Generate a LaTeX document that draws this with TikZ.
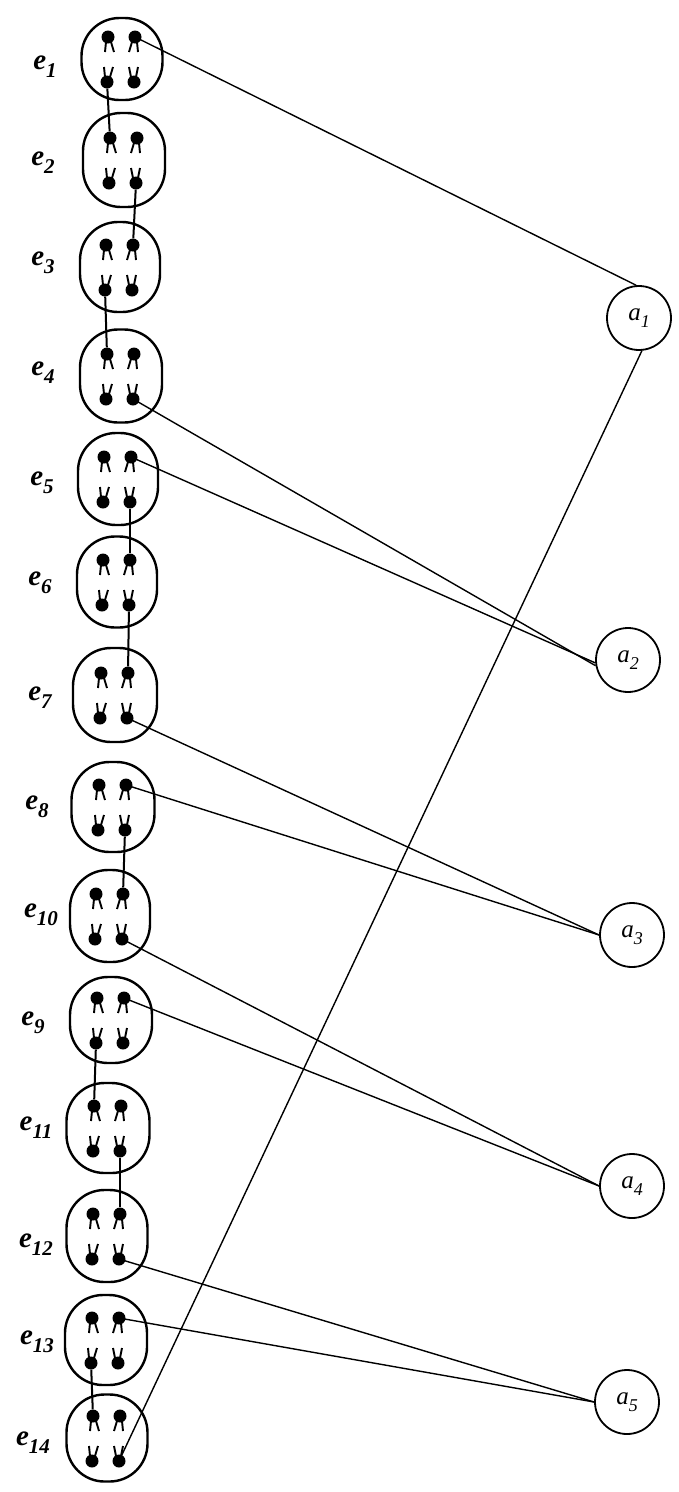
\documentclass[tikz,border=0pt]{standalone}
\usepackage{fontspec}
\setmainfont{Liberation Serif}
\usetikzlibrary{calc}
\newcommand\lbl[2]{\textit{#1}\raisebox{-0.28em}{\fontsize{21}{21}\selectfont\itshape #2}}
\newcommand\albl[2]{\textit{#1}\raisebox{-0.28em}{\fontsize{18}{18}\selectfont\itshape #2}}
\tikzset{
  ebox/.style={draw, line width=2.4pt, rounded corners=38pt, inner sep=0pt},
  dot/.style={circle, fill=black, inner sep=0pt, minimum size=13pt},
  leg/.style={line width=1.9pt},
  link/.style={line width=2pt},
  wire/.style={line width=1.4pt},
  anode/.style={circle, draw, line width=1.8pt, minimum size=64pt, inner sep=0pt, font=\fontsize{25}{25}\selectfont},
  elab/.style={font=\fontsize{29}{29}\selectfont\bfseries, inner sep=0pt}
}
\newcommand\mkbox[6]{%
  \node[ebox, minimum width=#4pt, minimum height=#5pt] (#1) at (#2,#3) {};
  \node[dot] (#1tl) at ([shift={(-14,-22)}]#1.center) {};
  \node[dot] (#1tr) at ([shift={(13,-22)}]#1.center) {};
  \node[dot] (#1bl) at ([shift={(-15,23)}]#1.center) {};
  \node[dot] (#1br) at ([shift={(12,23)}]#1.center) {};
  \draw[leg] ([shift={(-2,5)}]#1tl.center) -- ++(-1,10);
  \draw[leg] ([shift={(3,5)}]#1tl.center) -- ++(3,10);
  \draw[leg] ([shift={(-3,5)}]#1tr.center) -- ++(-3,10);
  \draw[leg] ([shift={(2,5)}]#1tr.center) -- ++(1,10);
  \draw[leg] ([shift={(-2,-5)}]#1bl.center) -- ++(-1,-10);
  \draw[leg] ([shift={(3,-5)}]#1bl.center) -- ++(3,-10);
  \draw[leg] ([shift={(-3,-5)}]#1br.center) -- ++(-2,-10);
  \draw[leg] ([shift={(2,-5)}]#1br.center) -- ++(2,-10);
  \node[elab] (#1lab) at #6 {\lbl{e}{\getsub{#1}}};
}
\newcommand\getsub[1]{\expandafter\dropfirst#1\relax}
\def\dropfirst#1#2\relax{#2}
\begin{document}
\begin{tikzpicture}[x=1pt,y=-1pt]
\useasboundingbox (0,0) rectangle (678,1492);
\mkbox{e1}{122}{59}{81}{82}{(45,67)}
\mkbox{e2}{124}{160}{82}{94}{(43,163)}
\mkbox{e3}{120}{267}{80}{90}{(43,263)}
\mkbox{e4}{121}{376}{82}{93}{(43,373)}
\mkbox{e5}{118}{479}{80}{92}{(42,483)}
\mkbox{e6}{117}{582}{80}{91}{(40,583)}
\mkbox{e7}{115}{695}{84}{94}{(40,698)}
\mkbox{e8}{113}{807}{83}{90}{(37,807)}
\mkbox{e10}{110}{916}{80}{92}{(41,915)}
\mkbox{e9}{111}{1020}{82}{86}{(33,1023)}
\mkbox{e11}{108}{1128}{83}{90}{(36,1128)}
\mkbox{e12}{107}{1236}{81}{92}{(36,1245)}
\mkbox{e13}{106}{1340}{82}{90}{(37,1342)}
\mkbox{e14}{107}{1438}{81}{87}{(33,1443)}

\node[anode] (a1) at (639,318) {\albl{a}{1}};
\node[anode] (a2) at (628,660) {\albl{a}{2}};
\node[anode] (a3) at (632,935) {\albl{a}{3}};
\node[anode] (a4) at (632,1186) {\albl{a}{4}};
\node[anode] (a5) at (627,1402) {\albl{a}{5}};

% vertical links
\draw[link] (e1bl) -- (e2tl);
\draw[link] (e2br) -- (e3tr);
\draw[link] (e3bl) -- (e4tl);
\draw[link] (e5br) -- (e6tr);
\draw[link] (e6br) -- (e7tr);
\draw[link] (e8br) -- (e10tr);
\draw[link] (e9bl) -- (e11tl);
\draw[link] (e11br) -- (e12tr);
\draw[link] (e13bl) -- (e14tl);

% wires to a-nodes
\draw[wire] (e1tr.center) -- (a1.95);
\draw[wire] (a1.275) -- (e14br.center);
\draw[wire] (e4br.center) -- (a2.190);
\draw[wire] (e5tr.center) -- (a2.185);
\draw[wire] (e7br.center) -- (a3.west);
\draw[wire] (e8tr.center) -- (a3.west);
\draw[wire] (e10br.center) -- (a4.west);
\draw[wire] (e9tr.center) -- (a4.west);
\draw[wire] (e12br.center) -- (a5.west);
\draw[wire] (e13tr.center) -- (a5.west);
\end{tikzpicture}
\end{document}
